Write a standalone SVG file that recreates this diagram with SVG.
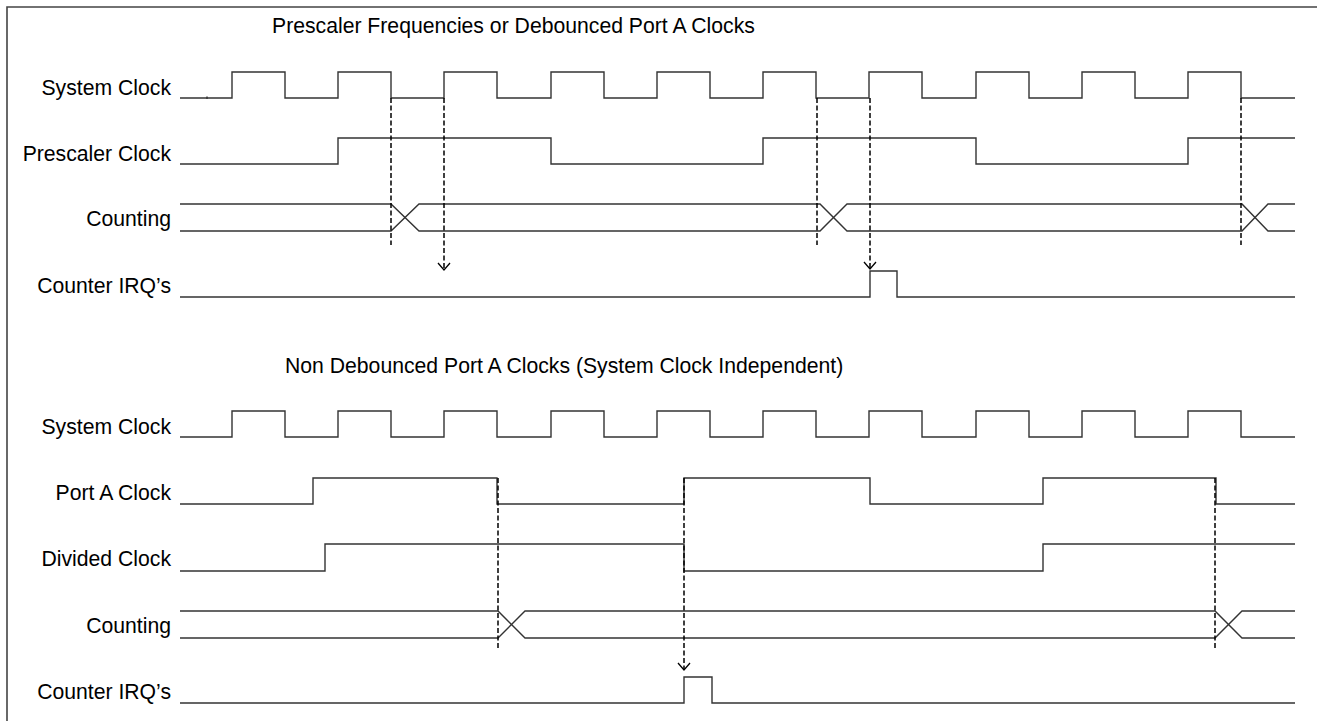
<svg xmlns="http://www.w3.org/2000/svg" width="1317" height="721" viewBox="0 0 1317 721">
<style>
text{font-family:"Liberation Sans",Arial,sans-serif;font-size:21.2px;fill:#000}
.lbl{text-anchor:end}
.sig{fill:none;stroke:#333;stroke-width:1.4}
.dash{fill:none;stroke:#000;stroke-width:1.5;stroke-dasharray:5 2.5}
.head{fill:none;stroke:#000;stroke-width:1.3}
</style>
<rect width="1317" height="721" fill="#fff"/>
<path d="M7 721 V7 H1317" fill="none" stroke="#444" stroke-width="1.6"/>
<g id="title-top"><text x="272" y="33">Prescaler Frequencies or Debounced Port A Clocks</text></g>
<g id="sysclk-top">
<text class="lbl" x="171" y="95">System Clock</text>
<path class="sig" d="M180 98 H232 V72 H285 V98 H338 V72 H391 V98 H444 V72 H497 V98 H551 V72 H604 V98 H657 V72 H710 V98 H763 V72 H816 V98 H869 V72 H922 V98 H976 V72 H1029 V98 H1082 V72 H1135 V98 H1188 V72 H1241 V98 H1295"/>
<path class="sig" d="M207 96.5 V99"/>
</g>
<g id="prescaler">
<text class="lbl" x="171" y="161">Prescaler Clock</text>
<path class="sig" d="M180 164 H338 V138 H551 V164 H763 V138 H976 V164 H1188 V138 H1295"/>
</g>
<g id="counting-top">
<text class="lbl" x="171" y="226">Counting</text>
<path class="sig" d="M180 204 H391 L419 231 H820 L847 204 H1242 L1268 231 H1295"/>
<path class="sig" d="M180 231 H391 L419 204 H820 L847 231 H1242 L1268 204 H1295"/>
</g>
<g id="irq-top">
<text class="lbl" x="171" y="293">Counter IRQ’s</text>
<path class="sig" d="M180 297 H870 V271 H897 V297 H1295"/>
</g>
<g id="title-bottom"><text x="285" y="373">Non Debounced Port A Clocks (System Clock Independent)</text></g>
<g id="sysclk-bottom">
<text class="lbl" x="171" y="434">System Clock</text>
<path class="sig" d="M180 437 H232 V411 H285 V437 H338 V411 H391 V437 H444 V411 H497 V437 H551 V411 H604 V437 H657 V411 H710 V437 H763 V411 H816 V437 H869 V411 H922 V437 H976 V411 H1029 V437 H1082 V411 H1135 V437 H1188 V411 H1241 V437 H1295"/>
</g>
<g id="portA">
<text class="lbl" x="171" y="500">Port A Clock</text>
<path class="sig" d="M180 504 H313 V478 H497 V504 H684 V478 H870 V504 H1043 V478 H1216 V504 H1295"/>
</g>
<g id="divided">
<text class="lbl" x="171" y="566">Divided Clock</text>
<path class="sig" d="M180 571 H325 V544 H684 V571 H1043 V544 H1295"/>
</g>
<g id="counting-bottom">
<text class="lbl" x="171" y="633">Counting</text>
<path class="sig" d="M180 611 H498 L525 638 H1215 L1242 611 H1295"/>
<path class="sig" d="M180 638 H498 L525 611 H1215 L1242 638 H1295"/>
</g>
<g id="irq-bottom">
<text class="lbl" x="171" y="699">Counter IRQ’s</text>
<path class="sig" d="M180 703 H684 V677 H712 V703 H1295"/>
</g>
<g id="connectors">
<path class="dash" d="M391 98 V245 M817 98 V245 M1241 98 V245"/>
<path class="dash" d="M444 98 V269 M870 98 V269"/>
<path class="head" d="M438 263 L444 270 L450 263 M864 262 L870 269 L876 262"/>
<path class="dash" d="M498 478 V650 M1215 478 V650 M684 478 V669"/>
<path class="head" d="M678 663 L684 670 L690 663"/>
</g>
</svg>
